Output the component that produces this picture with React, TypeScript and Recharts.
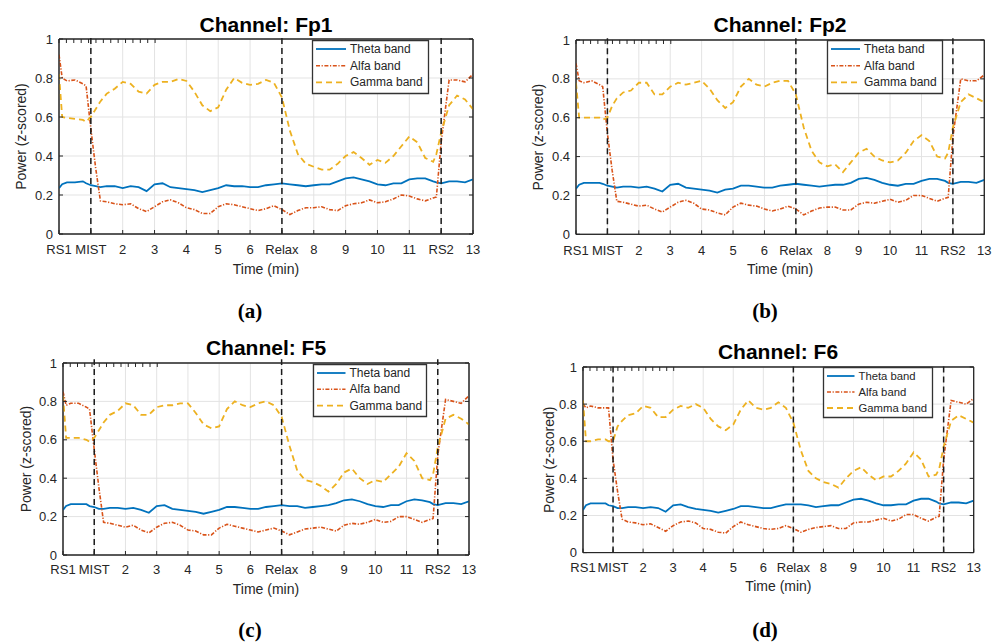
import React from 'react';
import { LineChart, Line, XAxis, YAxis, CartesianGrid, ReferenceLine, ReferenceArea } from 'recharts';

// ---------- data ----------
const TIME = [0, 0.1, 0.25, 0.5, 0.75, 0.85, 1, 1.15, 1.3, 1.5, 1.75, 2, 2.25, 2.5, 2.75, 3, 3.25, 3.5, 3.75, 4, 4.25, 4.5, 4.75, 5, 5.25, 5.5, 5.75, 6, 6.25, 6.5, 6.75, 7, 7.25, 7.5, 7.75, 8, 8.25, 8.5, 8.75, 9, 9.25, 9.5, 9.75, 10, 10.25, 10.5, 10.75, 11, 11.25, 11.5, 11.75, 11.85, 12, 12.25, 12.5, 12.75, 13];

const X_TICKS = [0, 1, 2, 3, 4, 5, 6, 7, 8, 9, 10, 11, 12, 13];
const X_TICK_LABELS = ['RS1', 'MIST', '2', '3', '4', '5', '6', 'Relax', '8', '9', '10', '11', 'RS2', '13'];
const Y_TICKS = [0, 0.2, 0.4, 0.6, 0.8, 1];
const EVENT_MARKERS = [1, 7, 12];
const SERIES_NAMES = ['Theta band', 'Alfa band', 'Gamma band'];
const CHANNELS = ['Fp1', 'Fp2', 'F5', 'F6'];
const CAPTIONS = ['(a)', '(b)', '(c)', '(d)'];

const THETA_FP1 = [0.235, 0.255, 0.265, 0.265, 0.27, 0.26, 0.25, 0.245, 0.24, 0.245, 0.245, 0.235, 0.245, 0.24, 0.22, 0.255, 0.26, 0.24, 0.235, 0.23, 0.225, 0.215, 0.225, 0.235, 0.25, 0.245, 0.245, 0.24, 0.24, 0.25, 0.255, 0.26, 0.255, 0.25, 0.245, 0.25, 0.255, 0.255, 0.27, 0.285, 0.29, 0.28, 0.27, 0.255, 0.25, 0.26, 0.26, 0.28, 0.285, 0.285, 0.27, 0.265, 0.26, 0.27, 0.27, 0.265, 0.28];
const ALFA_FP1 = [0.92, 0.8, 0.785, 0.79, 0.77, 0.76, 0.54, 0.34, 0.17, 0.165, 0.155, 0.15, 0.155, 0.13, 0.115, 0.14, 0.165, 0.175, 0.16, 0.135, 0.125, 0.105, 0.105, 0.14, 0.155, 0.15, 0.14, 0.13, 0.12, 0.13, 0.145, 0.125, 0.1, 0.12, 0.135, 0.135, 0.14, 0.125, 0.12, 0.145, 0.155, 0.16, 0.175, 0.16, 0.165, 0.18, 0.2, 0.195, 0.18, 0.17, 0.185, 0.19, 0.47, 0.79, 0.79, 0.78, 0.82];
const GAMMA_FP1 = [0.82, 0.6, 0.595, 0.59, 0.585, 0.575, 0.6, 0.64, 0.68, 0.72, 0.745, 0.78, 0.77, 0.73, 0.72, 0.765, 0.78, 0.78, 0.795, 0.785, 0.73, 0.66, 0.63, 0.65, 0.74, 0.8, 0.775, 0.765, 0.77, 0.79, 0.775, 0.7, 0.53, 0.41, 0.36, 0.345, 0.33, 0.33, 0.36, 0.4, 0.42, 0.39, 0.355, 0.38, 0.365, 0.4, 0.45, 0.5, 0.47, 0.39, 0.37, 0.41, 0.52, 0.66, 0.71, 0.69, 0.64];

const THETA_FP2 = [0.235, 0.255, 0.265, 0.265, 0.265, 0.26, 0.25, 0.245, 0.24, 0.245, 0.245, 0.24, 0.245, 0.235, 0.22, 0.255, 0.26, 0.24, 0.235, 0.23, 0.225, 0.215, 0.23, 0.235, 0.25, 0.25, 0.245, 0.24, 0.24, 0.25, 0.255, 0.26, 0.255, 0.25, 0.245, 0.25, 0.255, 0.255, 0.265, 0.285, 0.29, 0.28, 0.265, 0.255, 0.25, 0.26, 0.26, 0.275, 0.285, 0.285, 0.275, 0.265, 0.26, 0.27, 0.27, 0.265, 0.28];
const ALFA_FP2 = [0.88, 0.79, 0.78, 0.79, 0.77, 0.76, 0.52, 0.33, 0.17, 0.165, 0.155, 0.145, 0.15, 0.13, 0.115, 0.14, 0.165, 0.175, 0.16, 0.13, 0.125, 0.11, 0.1, 0.14, 0.16, 0.15, 0.145, 0.13, 0.12, 0.13, 0.145, 0.13, 0.1, 0.12, 0.135, 0.14, 0.14, 0.125, 0.125, 0.155, 0.165, 0.16, 0.17, 0.18, 0.165, 0.175, 0.2, 0.2, 0.185, 0.17, 0.185, 0.19, 0.5, 0.8, 0.79, 0.79, 0.82];
const GAMMA_FP2 = [0.78, 0.6, 0.6, 0.6, 0.6, 0.59, 0.6, 0.66, 0.7, 0.73, 0.74, 0.78, 0.78, 0.72, 0.72, 0.76, 0.78, 0.77, 0.78, 0.79, 0.75, 0.69, 0.65, 0.68, 0.76, 0.8, 0.77, 0.76, 0.78, 0.79, 0.79, 0.72, 0.55, 0.43, 0.37, 0.35, 0.36, 0.32, 0.37, 0.42, 0.44, 0.4, 0.38, 0.37, 0.38, 0.42, 0.48, 0.51, 0.48, 0.4, 0.39, 0.42, 0.55, 0.68, 0.72, 0.7, 0.68];

const THETA_F5 = [0.235, 0.255, 0.265, 0.265, 0.265, 0.255, 0.25, 0.24, 0.24, 0.245, 0.245, 0.24, 0.245, 0.235, 0.22, 0.255, 0.26, 0.24, 0.235, 0.23, 0.225, 0.215, 0.225, 0.235, 0.25, 0.25, 0.245, 0.24, 0.24, 0.25, 0.255, 0.26, 0.255, 0.255, 0.245, 0.25, 0.255, 0.26, 0.27, 0.285, 0.29, 0.28, 0.265, 0.255, 0.25, 0.26, 0.26, 0.28, 0.29, 0.285, 0.275, 0.265, 0.26, 0.27, 0.27, 0.265, 0.28];
const ALFA_F5 = [0.85, 0.78, 0.79, 0.79, 0.77, 0.76, 0.55, 0.35, 0.17, 0.165, 0.155, 0.145, 0.155, 0.13, 0.115, 0.145, 0.165, 0.17, 0.155, 0.13, 0.125, 0.105, 0.105, 0.14, 0.16, 0.15, 0.14, 0.13, 0.12, 0.13, 0.14, 0.125, 0.105, 0.12, 0.135, 0.14, 0.145, 0.135, 0.125, 0.155, 0.165, 0.16, 0.17, 0.185, 0.17, 0.175, 0.2, 0.2, 0.185, 0.17, 0.185, 0.19, 0.52, 0.81, 0.8, 0.79, 0.83];
const GAMMA_F5 = [0.83, 0.61, 0.61, 0.61, 0.6, 0.59, 0.61, 0.65, 0.69, 0.73, 0.75, 0.79, 0.78, 0.73, 0.73, 0.77, 0.78, 0.78, 0.79, 0.79, 0.74, 0.68, 0.66, 0.67, 0.76, 0.8, 0.78, 0.77, 0.79, 0.8, 0.78, 0.72, 0.57, 0.44, 0.39, 0.38, 0.36, 0.33, 0.37, 0.43, 0.45, 0.4, 0.37, 0.39, 0.38, 0.42, 0.46, 0.53, 0.49, 0.4, 0.39, 0.42, 0.56, 0.71, 0.73, 0.71, 0.68];

const THETA_F6 = [0.23, 0.255, 0.265, 0.265, 0.265, 0.255, 0.25, 0.24, 0.24, 0.245, 0.245, 0.24, 0.245, 0.24, 0.22, 0.255, 0.26, 0.245, 0.235, 0.23, 0.225, 0.215, 0.225, 0.235, 0.25, 0.25, 0.245, 0.24, 0.24, 0.25, 0.26, 0.26, 0.26, 0.255, 0.245, 0.25, 0.255, 0.255, 0.27, 0.285, 0.29, 0.28, 0.265, 0.255, 0.255, 0.26, 0.26, 0.28, 0.29, 0.29, 0.275, 0.265, 0.26, 0.27, 0.27, 0.265, 0.28];
const ALFA_F6 = [0.8, 0.78, 0.79, 0.78, 0.78, 0.78, 0.5, 0.33, 0.18, 0.165, 0.16, 0.15, 0.155, 0.135, 0.115, 0.145, 0.165, 0.17, 0.16, 0.13, 0.125, 0.11, 0.105, 0.14, 0.165, 0.15, 0.14, 0.13, 0.125, 0.13, 0.145, 0.13, 0.11, 0.125, 0.135, 0.14, 0.145, 0.13, 0.13, 0.16, 0.165, 0.165, 0.175, 0.185, 0.17, 0.18, 0.205, 0.205, 0.185, 0.17, 0.19, 0.195, 0.5, 0.82, 0.81, 0.8, 0.83];
const GAMMA_F6 = [0.82, 0.6, 0.6, 0.61, 0.61, 0.6, 0.6, 0.68, 0.71, 0.74, 0.75, 0.79, 0.78, 0.73, 0.73, 0.77, 0.79, 0.78, 0.8, 0.78, 0.72, 0.68, 0.66, 0.69, 0.77, 0.82, 0.78, 0.77, 0.78, 0.81, 0.78, 0.7, 0.55, 0.44, 0.4, 0.38, 0.37, 0.35, 0.4, 0.44, 0.46, 0.42, 0.39, 0.41, 0.41, 0.44, 0.48, 0.54, 0.5, 0.41, 0.42, 0.45, 0.57, 0.71, 0.74, 0.72, 0.7];

// ---------- styles ----------
const SERIES_STYLE = [
  { key: 'theta', color: '#0072BD', dash: undefined as string | undefined, width: 1.8 },
  { key: 'alfa', color: '#D95319', dash: '4 1.6 1.2 1.6', width: 1.6 },
  { key: 'gamma', color: '#EDB120', dash: '6 4', width: 1.8 },
];

const AXIS_COLOR = '#262626';
const FONT = '"Liberation Sans", Arial, Helvetica, sans-serif';

type PanelLayout = {
  plotLeft: number; plotTop: number; plotW: number; plotH: number;
  ylabW: number;
  legLeft: number; legTop: number; legW: number; legH: number; legFont: number; legTextX: number; legRow: number;
  titleX: number; titleY: number;
  capX: number; capY: number;
  tickMargin: number; xlabOffset: number;
};

const LAYOUTS: PanelLayout[] = [
  { plotLeft: 59.3, plotTop: 39.3, plotW: 414, plotH: 195, ylabW: 75, legLeft: 312, legTop: 40, legW: 117, legH: 54, legFont: 12, legTextX: 38, legRow: 16.7, titleX: 266, titleY: 25, capX: 250, capY: 311, tickMargin: 15, xlabOffset: 5 },
  { plotLeft: 575.7, plotTop: 40, plotW: 408.3, plotH: 194.3, ylabW: 75, legLeft: 827, legTop: 40, legW: 116, legH: 54, legFont: 12, legTextX: 37, legRow: 16.7, titleX: 780, titleY: 25, capX: 765, capY: 311, tickMargin: 15, xlabOffset: 5 },
  { plotLeft: 63.3, plotTop: 363.3, plotW: 406, plotH: 192, ylabW: 73, legLeft: 312.7, legTop: 364, legW: 114, legH: 53, legFont: 12, legTextX: 36.5, legRow: 16.3, titleX: 266, titleY: 348, capX: 250, capY: 630, tickMargin: 14, xlabOffset: 6 },
  { plotLeft: 583.3, plotTop: 366.7, plotW: 390.7, plotH: 185.6, ylabW: 68, legLeft: 822.7, legTop: 367, legW: 110, legH: 51, legFont: 11.3, legTextX: 35.5, legRow: 16, titleX: 778, titleY: 352, capX: 765, capY: 630, tickMargin: 14, xlabOffset: 6.5 },
];

const PANEL_SERIES = [
  [THETA_FP1, ALFA_FP1, GAMMA_FP1],
  [THETA_FP2, ALFA_FP2, GAMMA_FP2],
  [THETA_F5, ALFA_F5, GAMMA_F5],
  [THETA_F6, ALFA_F6, GAMMA_F6],
];

const MARGIN_TOP = 9;
const MARGIN_RIGHT = 9;
const XAXIS_H = 45;

function LegendBox({ L }: { L: PanelLayout }) {
  const w = Math.round(L.legW), h = Math.round(L.legH);
  const x0 = Math.round(L.legLeft), y0 = Math.round(L.legTop);
  return (
    <svg width={w + 2} height={h + 2} style={{ position: 'absolute', left: x0 - 1, top: y0 - 1, zIndex: 5, display: 'block', overflow: 'visible' }}>
      <path d={`M1.5 1.5 H${w + 0.5} V${h + 0.5} H1.5 Z`} fill="#ffffff" stroke="#333333" strokeWidth={1.3} />
      {SERIES_NAMES.map((name, i) => {
        const y = 10 + i * L.legRow;
        const s = SERIES_STYLE[i];
        return (
          <g key={name}>
            <line x1={5} x2={L.legTextX - 3} y1={y} y2={y} stroke={s.color} strokeWidth={s.width} strokeDasharray={s.dash} />
            <text x={L.legTextX + 1} y={y} dominantBaseline="central" fontSize={L.legFont} fill={AXIS_COLOR} fontFamily={FONT}>{name}</text>
          </g>
        );
      })}
    </svg>
  );
}

function Panel({ idx }: { idx: number }) {
  const L = LAYOUTS[idx];
  const series = PANEL_SERIES[idx];
  const data = TIME.map((t, i) => ({ t, theta: series[0][i], alfa: series[1][i], gamma: series[2][i] }));
  const chartLeft = L.plotLeft - L.ylabW;
  const chartTop = L.plotTop - MARGIN_TOP - 1;
  const width = L.ylabW + L.plotW + MARGIN_RIGHT + 1;
  const height = MARGIN_TOP + 1 + L.plotH + XAXIS_H;
  const tickStyle = { fontSize: 13, fill: AXIS_COLOR, fontFamily: FONT };
  return (
    <>
      <div style={{ position: 'absolute', left: L.titleX - 200, top: L.titleY - 13, width: 400, height: 26, lineHeight: '26px', textAlign: 'center', fontFamily: FONT, fontWeight: 'bold', fontSize: 21, color: '#000' }}>
        {'Channel: ' + CHANNELS[idx]}
      </div>
      <div style={{ position: 'absolute', left: chartLeft, top: chartTop }}>
        <LineChart width={width} height={height} data={data} margin={{ top: MARGIN_TOP, right: MARGIN_RIGHT, left: 0, bottom: 0 }}>
          <CartesianGrid stroke="#e3e3e3" strokeWidth={1} />
          <XAxis
            dataKey="t" type="number" domain={[0, 13]} ticks={X_TICKS} allowDataOverflow
            tickFormatter={(v: number) => X_TICK_LABELS[X_TICKS.indexOf(v)] ?? String(v)}
            height={XAXIS_H} tickSize={-4} tickMargin={L.tickMargin} interval={0}
            stroke={AXIS_COLOR} tick={tickStyle}
            label={{ value: 'Time (min)', position: 'insideBottom', offset: L.xlabOffset, fill: AXIS_COLOR, fontSize: 14, fontFamily: FONT }}
          />
          <XAxis xAxisId="top" orientation="top" type="number" domain={[0, 13]} ticks={X_TICKS} allowDataOverflow
            height={1} tickSize={-4} tickFormatter={() => ''} stroke={AXIS_COLOR} interval={0} />
          <YAxis
            type="number" domain={[0, 1]} ticks={Y_TICKS} allowDataOverflow
            width={L.ylabW} tickSize={-4} tickMargin={10} interval={0}
            stroke={AXIS_COLOR} tick={tickStyle}
            label={{ value: 'Power (z-scored)', angle: -90, position: 'center', fill: AXIS_COLOR, fontSize: 14, fontFamily: FONT }}
          />
          <YAxis yAxisId="right" orientation="right" type="number" domain={[0, 1]} ticks={Y_TICKS} allowDataOverflow
            width={1} tickSize={-4} tickFormatter={() => ''} stroke={AXIS_COLOR} interval={0} />
          {SERIES_STYLE.map((s, i) => (
            <Line key={s.key} type="linear" dataKey={s.key} name={SERIES_NAMES[i]} stroke={s.color}
              strokeWidth={s.width} strokeDasharray={s.dash} dot={false} activeDot={false} isAnimationActive={false} />
          ))}
          {EVENT_MARKERS.map((m) => (
            <ReferenceLine key={m} segment={[{ x: m, y: 0 }, { x: m, y: 1.02 }]} ifOverflow="visible"
              stroke="#1a1a1a" strokeWidth={1.5} strokeDasharray="6 4" />
          ))}
          <ReferenceArea x1={0} x2={13} y1={0} y2={1} ifOverflow="visible" fill="none" fillOpacity={0}
            stroke={AXIS_COLOR} strokeWidth={1} />
        </LineChart>
      </div>
      <LegendBox L={L} />
      <div style={{ position: 'absolute', left: L.capX - 50, top: L.capY - 13, width: 100, height: 26, lineHeight: '26px', textAlign: 'center', fontFamily: '"Liberation Serif", "Times New Roman", serif', fontWeight: 'bold', fontSize: 21, color: '#000' }}>
        {CAPTIONS[idx]}
      </div>
    </>
  );
}

export default function App() {
  return (
    <div style={{ position: 'absolute', left: 0, top: 0, width: 1000, height: 644, background: '#ffffff', overflow: 'hidden', fontFamily: FONT }}>
      {LAYOUTS.map((_, i) => <Panel key={i} idx={i} />)}
    </div>
  );
}
